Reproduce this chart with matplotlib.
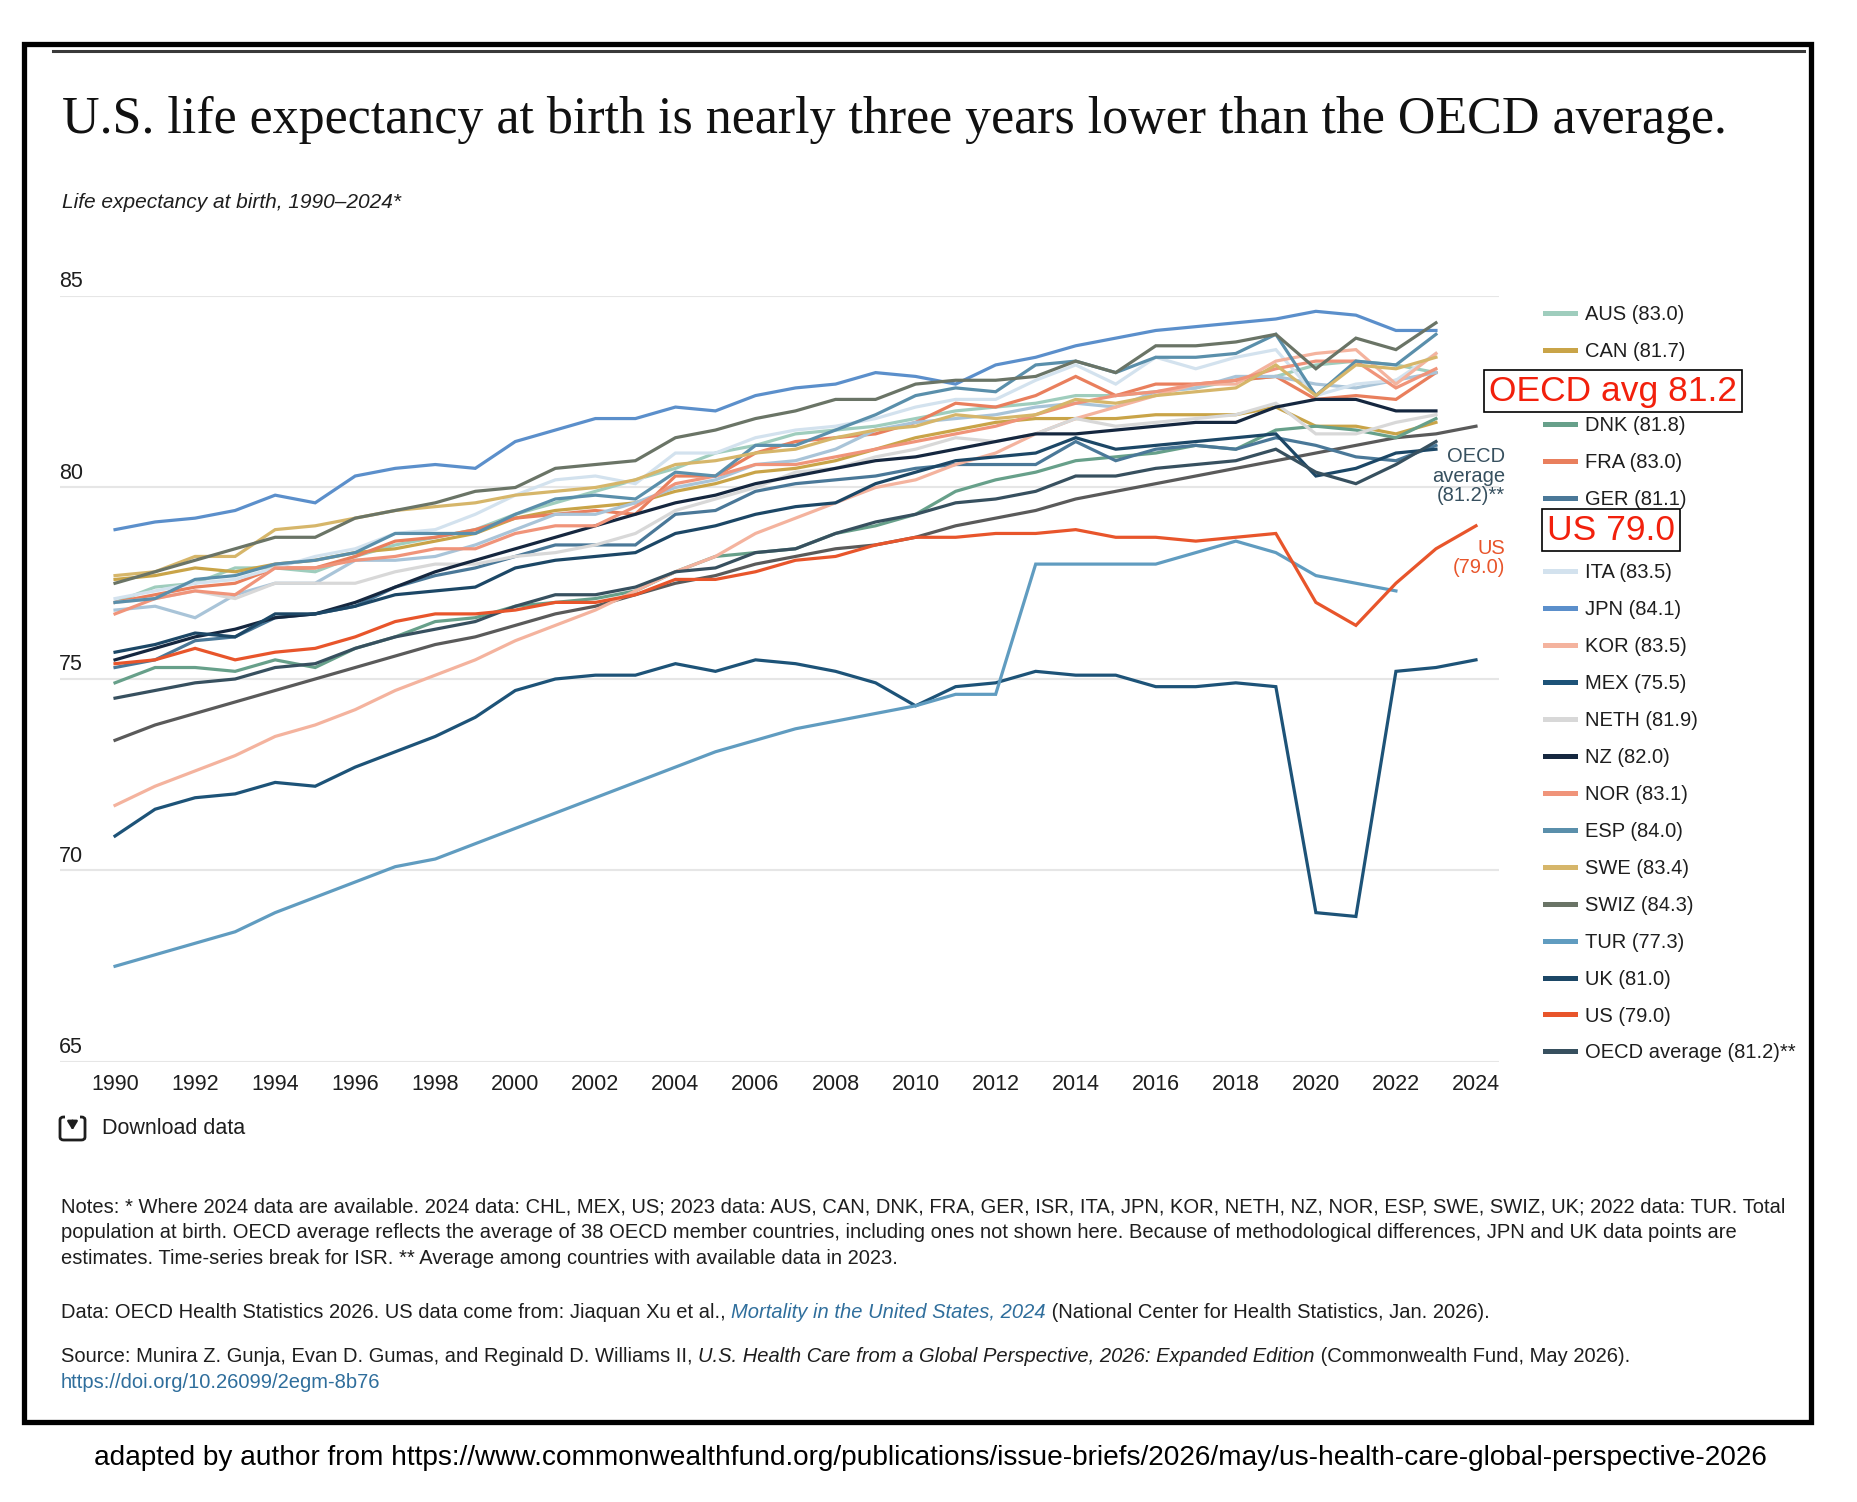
#life expectancy at birth, 1990-2024, OECD countries vs US

import matplotlib
matplotlib.use("Agg")
import matplotlib.pyplot as plt
from matplotlib.lines import Line2D
from matplotlib.patches import Rectangle, FancyBboxPatch, FancyArrowPatch


#years
years = list(range(1990, 2025))

#series values, 1990 onwards (2022, 2023 or 2024 is the last year)
AUS = [77.0, 77.4, 77.5, 77.9, 77.9, 77.8, 78.2, 78.5, 78.7, 78.9, 79.3, 79.6, 79.9, 80.2, 80.5, 80.9, 81.1,
       81.4, 81.5, 81.6, 81.8, 82.0, 82.1, 82.2, 82.4, 82.4, 82.5, 82.6, 82.8, 82.9, 83.2, 83.3, 83.2, 83.0]
CAN = [77.6, 77.7, 77.9, 77.8, 78.0, 78.1, 78.3, 78.4, 78.6, 78.8, 79.2, 79.4, 79.5, 79.6, 79.9, 80.1, 80.4,
       80.5, 80.7, 81.0, 81.3, 81.5, 81.7, 81.8, 81.8, 81.8, 81.9, 81.9, 81.9, 82.1, 81.6, 81.6, 81.4, 81.7]
CHL = [73.4, 73.8, 74.1, 74.4, 74.7, 75.0, 75.3, 75.6, 75.9, 76.1, 76.4, 76.7, 76.9, 77.2, 77.5, 77.7, 78.0,
       78.2, 78.4, 78.5, 78.7, 79.0, 79.2, 79.4, 79.7, 79.9, 80.1, 80.3, 80.5, 80.7, 80.9, 81.1, 81.3, 81.4, 81.6]
DNK = [74.9, 75.3, 75.3, 75.2, 75.5, 75.3, 75.8, 76.1, 76.5, 76.6, 76.9, 77.0, 77.1, 77.3, 77.8, 78.2, 78.3,
       78.4, 78.8, 79.0, 79.3, 79.9, 80.2, 80.4, 80.7, 80.8, 80.9, 81.1, 81.0, 81.5, 81.6, 81.5, 81.3, 81.8]
FRA = [77.0, 77.2, 77.4, 77.5, 77.9, 77.9, 78.2, 78.6, 78.7, 78.9, 79.2, 79.3, 79.4, 79.3, 80.3, 80.3, 80.9,
       81.2, 81.3, 81.4, 81.7, 82.2, 82.1, 82.4, 82.9, 82.4, 82.7, 82.7, 82.8, 82.9, 82.3, 82.4, 82.3, 83.0]
GER = [75.3, 75.5, 76.0, 76.1, 76.6, 76.7, 76.9, 77.4, 77.7, 77.9, 78.2, 78.5, 78.5, 78.5, 79.3, 79.4, 79.9,
       80.1, 80.2, 80.3, 80.5, 80.6, 80.6, 80.6, 81.2, 80.7, 81.0, 81.1, 81.0, 81.3, 81.1, 80.8, 80.7, 81.1]
ISR = [76.8, 76.9, 76.6, 77.2, 77.5, 77.5, 78.1, 78.1, 78.2, 78.5, 78.9, 79.3, 79.3, 79.6, 80.0, 80.2, 80.6,
       80.7, 81.0, 81.5, 81.7, 81.8, 81.9, 82.1, 82.2, 82.1, 82.5, 82.6, 82.9, 82.9, 82.7, 82.6, 82.8, 83.0]
ITA = [77.1, 77.3, 77.5, 77.6, 77.9, 78.2, 78.4, 78.8, 78.9, 79.3, 79.8, 80.2, 80.3, 80.1, 80.9, 80.9, 81.3,
       81.5, 81.6, 81.8, 82.1, 82.3, 82.3, 82.8, 83.2, 82.7, 83.4, 83.1, 83.4, 83.6, 82.4, 82.7, 82.8, 83.5]
JPN = [78.9, 79.1, 79.2, 79.4, 79.8, 79.6, 80.3, 80.5, 80.6, 80.5, 81.2, 81.5, 81.8, 81.8, 82.1, 82.0, 82.4,
       82.6, 82.7, 83.0, 82.9, 82.7, 83.2, 83.4, 83.7, 83.9, 84.1, 84.2, 84.3, 84.4, 84.6, 84.5, 84.1, 84.1]
KOR = [71.7, 72.2, 72.6, 73.0, 73.5, 73.8, 74.2, 74.7, 75.1, 75.5, 76.0, 76.4, 76.8, 77.3, 77.8, 78.2, 78.8,
       79.2, 79.6, 80.0, 80.2, 80.6, 80.9, 81.4, 81.8, 82.1, 82.4, 82.7, 82.7, 83.3, 83.5, 83.6, 82.7, 83.5]
MEX = [70.9, 71.6, 71.9, 72.0, 72.3, 72.2, 72.7, 73.1, 73.5, 74.0, 74.7, 75.0, 75.1, 75.1, 75.4, 75.2, 75.5,
       75.4, 75.2, 74.9, 74.3, 74.8, 74.9, 75.2, 75.1, 75.1, 74.8, 74.8, 74.9, 74.8, 68.9, 68.8, 75.2, 75.3, 75.5]
NETH = [77.0, 77.1, 77.3, 77.1, 77.5, 77.5, 77.5, 77.8, 78.0, 78.0, 78.2, 78.3, 78.5, 78.8, 79.4, 79.7, 80.0,
        80.4, 80.5, 80.8, 81.0, 81.3, 81.2, 81.4, 81.8, 81.6, 81.7, 81.8, 81.9, 82.2, 81.4, 81.4, 81.7, 81.9]
NZ = [75.5, 75.8, 76.1, 76.3, 76.6, 76.7, 77.0, 77.4, 77.8, 78.1, 78.4, 78.7, 79.0, 79.3, 79.6, 79.8, 80.1,
      80.3, 80.5, 80.7, 80.8, 81.0, 81.2, 81.4, 81.4, 81.5, 81.6, 81.7, 81.7, 82.1, 82.3, 82.3, 82.0, 82.0]
NOR = [76.7, 77.1, 77.3, 77.2, 77.9, 77.9, 78.1, 78.2, 78.4, 78.4, 78.8, 79.0, 79.0, 79.5, 80.1, 80.3, 80.6,
       80.6, 80.8, 81.0, 81.2, 81.4, 81.6, 81.9, 82.2, 82.4, 82.5, 82.7, 82.8, 83.1, 83.3, 83.3, 82.6, 83.1]
ESP = [77.0, 77.1, 77.6, 77.7, 78.0, 78.1, 78.3, 78.8, 78.8, 78.8, 79.3, 79.7, 79.8, 79.7, 80.4, 80.3, 81.1,
       81.1, 81.5, 81.9, 82.4, 82.6, 82.5, 83.2, 83.3, 83.0, 83.4, 83.4, 83.5, 84.0, 82.4, 83.3, 83.2, 84.0]
SWE = [77.7, 77.8, 78.2, 78.2, 78.9, 79.0, 79.2, 79.4, 79.5, 79.6, 79.8, 79.9, 80.0, 80.2, 80.6, 80.7, 80.9,
       81.0, 81.3, 81.5, 81.6, 81.9, 81.8, 81.9, 82.3, 82.2, 82.4, 82.5, 82.6, 83.2, 82.4, 83.2, 83.1, 83.4]
SWIZ = [77.5, 77.8, 78.1, 78.4, 78.7, 78.7, 79.2, 79.4, 79.6, 79.9, 80.0, 80.5, 80.6, 80.7, 81.3, 81.5, 81.8,
        82.0, 82.3, 82.3, 82.7, 82.8, 82.8, 82.9, 83.3, 83.0, 83.7, 83.7, 83.8, 84.0, 83.1, 83.9, 83.6, 84.3]
TUR = [67.5, 67.8, 68.1, 68.4, 68.9, 69.3, 69.7, 70.1, 70.3, 70.7, 71.1, 71.5, 71.9, 72.3, 72.7, 73.1, 73.4,
       73.7, 73.9, 74.1, 74.3, 74.6, 74.6, 78.0, 78.0, 78.0, 78.0, 78.3, 78.6, 78.3, 77.7, 77.5, 77.3]
UK = [75.7, 75.9, 76.2, 76.1, 76.7, 76.7, 76.9, 77.2, 77.3, 77.4, 77.9, 78.1, 78.2, 78.3, 78.8, 79.0, 79.3,
      79.5, 79.6, 80.1, 80.4, 80.7, 80.8, 80.9, 81.3, 81.0, 81.1, 81.2, 81.3, 81.4, 80.3, 80.5, 80.9, 81.0]
US = [75.4, 75.5, 75.8, 75.5, 75.7, 75.8, 76.1, 76.5, 76.7, 76.7, 76.8, 77.0, 77.0, 77.2, 77.6, 77.6, 77.8,
      78.1, 78.2, 78.5, 78.7, 78.7, 78.8, 78.8, 78.9, 78.7, 78.7, 78.6, 78.7, 78.8, 77.0, 76.4, 77.5, 78.4, 79.0]
OECD = [74.5, 74.7, 74.9, 75.0, 75.3, 75.4, 75.8, 76.1, 76.3, 76.5, 76.9, 77.2, 77.2, 77.4, 77.8, 77.9, 78.3,
        78.4, 78.8, 79.1, 79.3, 79.6, 79.7, 79.9, 80.3, 80.3, 80.5, 80.6, 80.7, 81.0, 80.4, 80.1, 80.6, 81.2]

#legend labels, in legend order
names = ["AUS (83.0)", "CAN (81.7)", "CHL (81.6)", "DNK (81.8)", "FRA (83.0)", "GER (81.1)", "ISR (83.0)",
         "ITA (83.5)", "JPN (84.1)", "KOR (83.5)", "MEX (75.5)", "NETH (81.9)", "NZ (82.0)", "NOR (83.1)",
         "ESP (84.0)", "SWE (83.4)", "SWIZ (84.3)", "TUR (77.3)", "UK (81.0)", "US (79.0)",
         "OECD average (81.2)**"]
series = [AUS, CAN, CHL, DNK, FRA, GER, ISR, ITA, JPN, KOR, MEX, NETH, NZ, NOR, ESP, SWE, SWIZ, TUR, UK, US, OECD]
colors = ["#9fcdbd", "#c9a448", "#5a5a5a", "#67a08a", "#e97f5d", "#4a7898", "#a9c4d8", "#d3e2ee", "#5b8fcb",
          "#f4b39e", "#1d5378", "#d8d8d8", "#15273f", "#f0947a", "#5a8fab", "#d6b66a", "#6a7466", "#609cc0",
          "#1c4766", "#e8552b", "#37505f"]

yticks = [65, 70, 75, 80, 85]
xticks = list(range(1990, 2025, 2))

W, H = 1858, 1502
dark = "#1e1e1e"
link = "#2f6e9c"


def fx(px):
    return px / W


def fy(py):
    return 1 - py / H


fig = plt.figure(figsize=(W / 100, H / 100), dpi=100)
renderer = fig.canvas.get_renderer()


def advance(s, size, **kw):
    #width of s in pixels, trailing spaces included
    t = fig.text(0, 0, "|" + s + "|", fontsize=size, **kw)
    w1 = t.get_window_extent(renderer).width
    t.set_text("||")
    w2 = t.get_window_extent(renderer).width
    t.remove()
    return w1 - w2


def runs(x, y, parts, size):
    for txt, style, col in parts:
        fig.text(fx(x), fy(y), txt, fontsize=size, style=style, color=col, va="center",
                 family="Liberation Sans")
        x += advance(txt, size, style=style, family="Liberation Sans")


#plot area
ax = fig.add_axes([fx(60), fy(1062), fx(1499 - 60), (1062 - 296) / H])
for s, c, n in zip(series, colors, names):
    ax.plot(years[:len(s)], s, color=c, lw=2.3, label=n, solid_joinstyle="miter",
            zorder=3 if n.startswith("US") else 2)

ax.set_xlim(1988.625, 2024.575)
ax.set_ylim(65, 85)
for v in yticks:
    ax.axhline(v, color="#e6e6e6", lw=1.5, zorder=0)
    ax.text(1988.6, v + 0.37, str(v), fontsize=15.5, color=dark, va="center", ha="left",
            family="Liberation Sans")
ax.set_yticks([])
ax.set_xticks(xticks)
ax.set_xticklabels([str(x) for x in xticks], fontsize=15.5, color=dark, family="Liberation Sans")
ax.tick_params(axis="x", length=0, pad=9)
for sp in ax.spines.values():
    sp.set_visible(False)

#end labels
fig.text(fx(1505), fy(476), "OECD\naverage\n(81.2)**", ha="right", va="center", fontsize=14.5,
         color="#37505f", linespacing=1.05, family="Liberation Sans")
fig.text(fx(1505), fy(558), "US\n(79.0)", ha="right", va="center", fontsize=14.5,
         color="#e8552b", linespacing=1.05, family="Liberation Sans")

#legend
leg = fig.legend(loc="upper left", bbox_to_anchor=(fx(1545), fy(305)), bbox_transform=fig.transFigure,
                 frameon=False, prop={"family": "Liberation Sans", "size": 14.5}, handlelength=1.5,
                 handletextpad=0.5, labelspacing=0.89, borderpad=0, borderaxespad=0)
for l in leg.get_lines():
    l.set_linewidth(3.6)
for t in leg.get_texts():
    t.set_color(dark)

#red boxes added on top
box = dict(facecolor="white", edgecolor="black", boxstyle="square,pad=0.14", lw=1.2)
fig.text(fx(1613), fy(391), "OECD avg 81.2", ha="center", va="center", fontsize=25.5, color="#f2200c",
         family="Liberation Sans", bbox=box, zorder=10)
fig.text(fx(1611), fy(530), "US 79.0", ha="center", va="center", fontsize=25.5, color="#f2200c",
         family="Liberation Sans", bbox=box, zorder=10)

#title and subtitle
title = "U.S. life expectancy at birth is nearly three years lower than the OECD average."
tsize = 30 * 1666 / advance(title, 30, family="Liberation Serif")
fig.text(fx(62), fy(133), title, fontsize=tsize, family="Liberation Serif", color="#111111", va="baseline")
fig.text(fx(62), fy(202), "Life expectancy at birth, 1990\u20132024*", fontsize=15, style="italic",
         family="Liberation Sans", color=dark, va="center")

#download icon
fig.add_artist(FancyBboxPatch((fx(60), fy(1140)), fx(25), 23 / H, boxstyle="round,pad=0,rounding_size=0.002",
                              fill=False, ec=dark, lw=2, transform=fig.transFigure))
fig.add_artist(Rectangle((fx(65), fy(1120)), fx(15), 6 / H, fc="white", ec="none", transform=fig.transFigure))
fig.add_artist(FancyArrowPatch((fx(72.5), fy(1118)), (fx(72.5), fy(1133)),
                               arrowstyle="-|>,head_length=0.5,head_width=0.3", mutation_scale=10,
                               color=dark, lw=1.8, transform=fig.transFigure))
fig.text(fx(102), fy(1128), "Download data", fontsize=15.5, family="Liberation Sans", color=dark, va="center")

#notes
notes = ["Notes: * Where 2024 data are available. 2024 data: CHL, MEX, US; 2023 data: AUS, CAN, DNK, FRA, GER, ISR, "
         "ITA, JPN, KOR, NETH, NZ, NOR, ESP, SWE, SWIZ, UK; 2022 data: TUR. Total",
         "population at birth. OECD average reflects the average of 38 OECD member countries, including ones not "
         "shown here. Because of methodological differences, JPN and UK data points are",
         "estimates. Time-series break for ISR. ** Average among countries with available data in 2023."]
nsize = min(14 * 1729 / advance(notes[0], 14, family="Liberation Sans"),
            14 * 1738 / advance(notes[1], 14, family="Liberation Sans"))
for i, n in enumerate(notes):
    fig.text(fx(61), fy(1207 + 26 * i), n, fontsize=nsize, family="Liberation Sans", color=dark, va="center")

runs(61, 1312, [("Data: OECD Health Statistics 2026. US data come from: Jiaquan Xu et al., ", "normal", dark),
                ("Mortality in the United States, 2024", "italic", link),
                (" (National Center for Health Statistics, Jan. 2026).", "normal", dark)], nsize)
runs(61, 1357, [("Source: Munira Z. Gunja, Evan D. Gumas, and Reginald D. Williams II, ", "normal", dark),
                ("U.S. Health Care from a Global Perspective, 2026: Expanded Edition", "italic", dark),
                (" (Commonwealth Fund, May 2026).", "normal", dark)], nsize)
runs(61, 1383, [("https://doi.org/10.26099/2egm-8b76", "normal", link)], nsize)

#frame
fig.add_artist(Rectangle((fx(24), fy(1422)), fx(1811 - 24), (1422 - 44) / H, fill=False, ec="black", lw=3.8,
                         transform=fig.transFigure))
fig.add_artist(Line2D([fx(53), fx(1804)], [fy(51), fy(51)], color="#3a3a3a", lw=2.2, transform=fig.transFigure))

#caption below frame
cap = "adapted by author from https://www.commonwealthfund.org/publications/issue-briefs/2026/may/us-health-care-global-perspective-2026"
csize = 20 * 1669 / advance(cap, 20, family="Liberation Sans")
fig.text(fx(930), fy(1458), cap, fontsize=csize, family="Liberation Sans", color="black", ha="center", va="center")

fig.savefig("out.png", dpi=100, facecolor="white")
